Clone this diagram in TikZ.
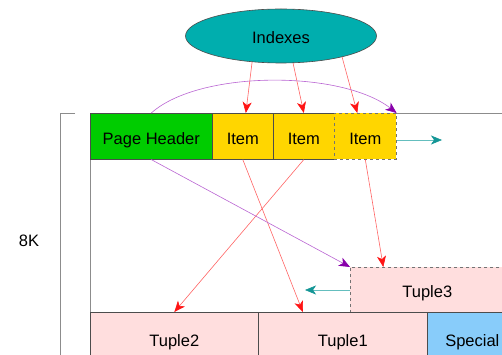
\documentclass[tikz,border=0pt]{standalone}
\usepackage{fontspec}
\setmainfont{Liberation Sans}
\usetikzlibrary{arrows.meta,shapes.geometric,calc}
\definecolor{hdrgreen}{RGB}{0,204,0}
\definecolor{itemgold}{RGB}{255,214,0}
\definecolor{tuplepink}{RGB}{255,222,222}
\definecolor{specblue}{RGB}{136,204,250}
\definecolor{idxteal}{RGB}{0,174,174}
\definecolor{pagegray}{RGB}{140,140,140}
\definecolor{redline}{RGB}{255,100,100}
\definecolor{redhead}{RGB}{255,20,20}
\definecolor{purpline}{RGB}{185,100,210}
\definecolor{purphead}{RGB}{136,0,170}
\definecolor{tealline}{RGB}{100,190,190}
\definecolor{tealhead}{RGB}{20,150,150}
\tikzset{
  lbl/.style={text height=16pt, text depth=0pt},
  cell/.style={lbl, draw=black!70, line width=0.6pt, rectangle, anchor=north west, inner sep=0pt, minimum height=46pt},
  dashcell/.style={cell, draw=black!55, dashed},
  tip/.style={-{Stealth[inset=3pt,length=11pt,width=9pt,color=#1]}},
  redarrow/.style={draw=redline, line width=0.6pt, tip=redhead},
  purparrow/.style={draw=purpline, line width=0.6pt, tip=purphead},
  tealarrow/.style={draw=tealline, line width=0.6pt, tip=tealhead},
  pageline/.style={draw=pagegray, line width=0.8pt}
}
\begin{document}
\begin{tikzpicture}[x=1pt,y=-1pt,font=\fontsize{16.5}{19}\selectfont]
\useasboundingbox (0,0) rectangle (502,355);
\clip (0,0) rectangle (502,355);
% page outline and bracket
\draw[pageline] (75,113) -- (60,113) -- (60,400);
\draw[pageline] (90,400) -- (90,113) -- (540,113);
\node[lbl] (size) at (29,238) {8K};
% index ellipse
\node[lbl, ellipse, draw=black!70, line width=0.6pt, fill=idxteal, minimum width=191pt, minimum height=54pt, inner sep=0pt] (idx) at (281,36) {Indexes};
% header row
\node[cell, fill=hdrgreen, minimum width=122pt] (hdr) at (90,113) {Page Header};
\node[cell, fill=itemgold, minimum width=61pt] (it1) at (212,113) {Item};
\node[cell, fill=itemgold, minimum width=61pt] (it2) at (273,113) {Item};
\node[dashcell, fill=itemgold, minimum width=62pt] (it3) at (334,113) {Item};
% tuples
\node[dashcell, fill=tuplepink, minimum width=154pt, minimum height=45pt] (t3) at (350,267) {Tuple3};
\node[cell, fill=tuplepink, minimum width=168pt, minimum height=52pt] (t2) at (90,312) {Tuple2};
\node[cell, fill=tuplepink, minimum width=169pt, minimum height=52pt] (t1) at (258,312) {Tuple1};
\node[cell, fill=specblue, minimum width=90pt, minimum height=52pt] (sp) at (427,312) {Special};
% free ends
\coordinate (ptrA) at (442,140);
\coordinate (ptrB) at (305,290);
% index pointers
\draw[redarrow] (idx.222) -- ([xshift=3pt]it1.north);
\draw[redarrow] (idx.294) -- (it2.north);
\draw[redarrow] (idx.341) -- ([xshift=-8pt]it3.north);
% item pointers
\draw[redarrow] (it1.south) -- ([xshift=-40pt]t1.north);
\draw[redarrow] (it2.south) -- (t2.north);
\draw[redarrow] (it3.south) -- ([xshift=-44pt]t3.north);
% header pointers
\draw[purparrow] (hdr.south) -- (t3.north west);
\draw[purparrow] (hdr.north) .. controls ($(hdr.north)+(48,-43)$) and ($(it3.north east)+(-55,-43)$) .. (it3.north east);
% free space pointers
\draw[tealarrow] (it3.east |- ptrA) -- (ptrA);
\draw[tealarrow] (t3.west |- ptrB) -- (ptrB);
\end{tikzpicture}
\end{document}
